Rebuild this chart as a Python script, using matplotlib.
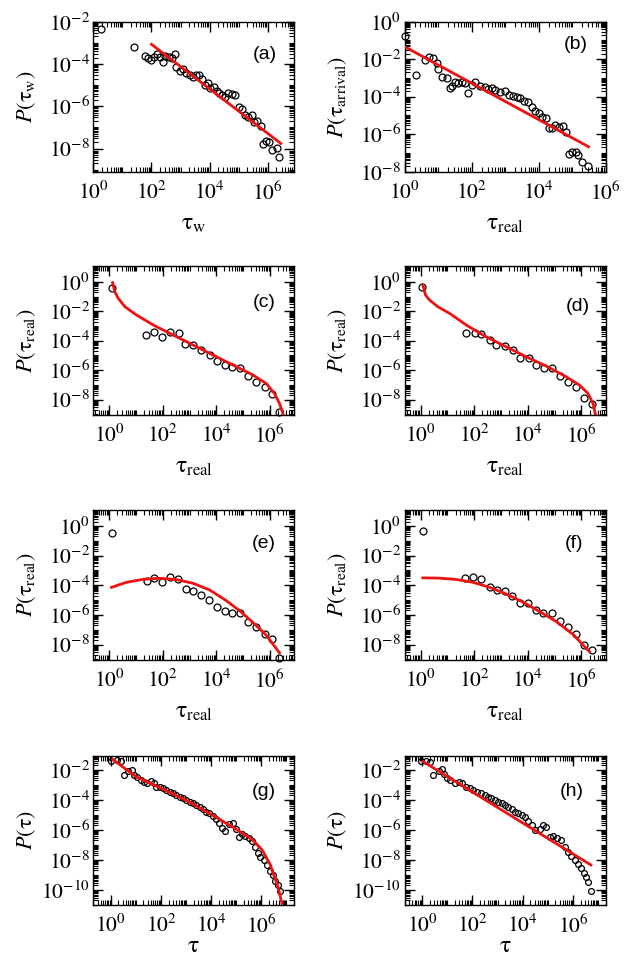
import numpy as np
import matplotlib
matplotlib.use('Agg')
import matplotlib.pyplot as plt
from matplotlib.ticker import FixedLocator, LogLocator, FuncFormatter, NullFormatter

plt.rcParams['mathtext.fontset'] = 'stix'
plt.rcParams['font.family'] = ['Liberation Serif', 'DejaVu Sans']

# (a) waiting times
a_lx = [0.28, 1.39, 1.77, 1.88, 1.98, 2.08, 2.2, 2.31, 2.39, 2.48, 2.6, 2.69, 2.8, 2.85,
        2.97, 3.08, 3.2, 3.31, 3.42, 3.54, 3.65, 3.75, 3.84, 3.95, 4.03, 4.15, 4.26, 4.34,
        4.43, 4.53, 4.64, 4.76, 4.87, 5.01, 5.13, 5.22, 5.33, 5.47, 5.53, 5.64, 5.76, 5.82,
        5.93, 6.05, 6.14, 6.33, 6.39]
a_ly = [-2.35, -3.18, -3.61, -3.71, -3.82, -3.66, -3.55, -3.66, -3.93, -3.61, -3.66, -3.74,
        -3.55, -4.13, -4.34, -4.24, -4.45, -4.5, -4.61, -4.5, -4.5, -4.72, -5.0, -4.92,
        -5.13, -5.08, -5.29, -5.35, -5.48, -5.56, -5.35, -5.44, -5.48, -6.03, -6.11, -6.4,
        -6.51, -6.43, -6.75, -6.72, -6.94, -7.77, -7.66, -7.69, -8.09, -7.98, -8.41]
a_fit_lx = [2.0, 6.45]
a_fit_ly = [-3.07, -7.76]

# (b) arrival times
b_lx = [0.02, 0.34, 0.6, 0.72, 0.84, 0.96, 1.01, 1.12, 1.27, 1.36, 1.43, 1.51, 1.61, 1.71,
        1.81, 1.89, 2.01, 2.11, 2.26, 2.39, 2.49, 2.61, 2.71, 2.86, 3.01, 3.13, 3.25, 3.35,
        3.45, 3.55, 3.68, 3.8, 3.9, 4.02, 4.1, 4.22, 4.3, 4.4, 4.5, 4.62, 4.73, 4.82, 4.9,
        5.0, 5.12, 5.18, 5.3, 5.47]
b_ly = [-0.75, -2.84, -2.04, -1.87, -1.95, -2.22, -2.54, -2.93, -2.99, -3.55, -3.43, -3.2,
        -3.29, -3.2, -3.29, -3.82, -3.38, -3.2, -3.43, -3.47, -3.59, -3.52, -3.64, -3.77,
        -3.7, -3.91, -3.94, -4.0, -4.09, -4.23, -4.3, -4.53, -4.76, -4.89, -5.07, -5.16,
        -5.65, -5.69, -5.51, -5.6, -5.56, -5.9, -7.07, -6.93, -6.93, -7.1, -7.47, -7.68]
b_fit_lx = [0.0, 5.49]
b_fit_ly = [-1.33, -6.67]

# (c)
c_lx = [0.08, 1.36, 1.66, 1.97, 2.28, 2.59, 2.84, 3.13, 3.42, 3.75, 4.02, 4.31, 4.6, 4.87,
        5.18, 5.49, 5.8, 6.09, 6.36]
c_ly = [-0.44, -3.61, -3.39, -3.77, -3.39, -3.5, -4.23, -4.29, -4.63, -4.97, -5.36, -5.65,
        -5.81, -5.88, -6.4, -6.79, -7.17, -7.63, -8.83]
c_fit_lx = [0.12, 0.2, 0.33, 0.58, 1.01, 1.64, 2.38, 3.13, 3.87, 4.62, 5.37, 5.86, 6.17,
            6.36, 6.49]
c_fit_ly = [-0.05, -0.67, -1.12, -1.69, -2.25, -2.93, -3.61, -4.29, -4.97, -5.65, -6.33,
            -6.9, -7.58, -8.26, -8.94]

# (d)
d_lx = [0.06, 1.7, 2.01, 2.26, 2.57, 2.82, 3.13, 3.43, 3.71, 4.04, 4.31, 4.62, 4.91, 5.18,
        5.49, 5.8, 6.08, 6.4]
d_ly = [-0.33, -3.46, -3.46, -3.55, -3.95, -4.29, -4.36, -4.63, -5.2, -5.2, -5.65, -5.88,
        -5.84, -6.4, -6.79, -7.13, -7.92, -8.31]
d_fit_lx = [0.08, 0.18, 0.33, 0.64, 1.08, 1.7, 2.44, 3.19, 3.94, 4.68, 5.43, 5.93, 6.24,
            6.43, 6.53]
d_fit_ly = [-0.21, -0.89, -1.23, -1.69, -2.14, -2.93, -3.73, -4.41, -5.09, -5.72, -6.45,
            -7.02, -7.58, -8.26, -9.06]

# (e)
e_lx = [0.08, 1.39, 1.66, 1.97, 2.26, 2.57, 2.86, 3.13, 3.42, 3.73, 4.02, 4.31, 4.6, 4.87,
        5.18, 5.49, 5.8, 6.09, 6.36]
e_ly = [-0.46, -3.68, -3.5, -3.8, -3.46, -3.57, -4.25, -4.36, -4.63, -5.0, -5.45, -5.72,
        -5.84, -5.9, -6.45, -6.81, -7.26, -7.65, -8.9]
e_fit_lx = [0.08, 0.64, 1.26, 1.89, 2.51, 3.13, 3.75, 4.37, 4.87, 5.37, 5.86, 6.36]
e_fit_ly = [-4.14, -3.8, -3.6, -3.53, -3.62, -3.87, -4.32, -5.04, -5.72, -6.52, -7.36, -8.56]

# (f)
f_lx = [0.08, 1.67, 1.97, 2.26, 2.57, 2.84, 3.13, 3.42, 3.71, 4.0, 4.29, 4.58, 4.9, 5.18,
        5.49, 5.8, 6.11, 6.4]
f_ly = [-0.33, -3.5, -3.45, -3.57, -4.09, -4.32, -4.41, -4.7, -5.22, -5.22, -5.68, -5.84,
        -5.9, -6.4, -6.81, -7.26, -8.04, -8.4]
f_fit_lx = [0.08, 0.7, 1.33, 1.95, 2.57, 3.19, 3.81, 4.43, 5.06, 5.68, 6.3]
f_fit_ly = [-3.5, -3.52, -3.61, -3.8, -4.14, -4.59, -5.13, -5.77, -6.45, -7.31, -8.49]

# (g)
g_lx = [0.0, 0.26, 0.4, 0.53, 0.7, 0.86, 0.93, 1.06, 1.19, 1.32, 1.46, 1.59, 1.72, 1.81,
        1.95, 2.08, 2.21, 2.34, 2.48, 2.61, 2.74, 2.87, 3.01, 3.14, 3.27, 3.4, 3.54, 3.67,
        3.8, 3.93, 4.07, 4.2, 4.33, 4.44, 4.54, 4.73, 4.86, 4.97, 5.1, 5.23, 5.36, 5.5,
        5.63, 5.76, 5.87, 5.96, 6.09, 6.23, 6.36, 6.45, 6.56, 6.66, 6.75]
g_ly = [-1.38, -1.33, -1.38, -2.33, -2.04, -2.0, -2.33, -2.49, -2.67, -2.78, -2.84, -2.71,
        -2.89, -3.11, -3.11, -3.22, -3.33, -3.44, -3.56, -3.67, -3.78, -3.89, -4.0, -4.11,
        -4.22, -4.33, -4.49, -4.62, -4.78, -4.89, -5.07, -5.29, -5.56, -5.89, -6.04, -5.6,
        -5.56, -5.96, -6.49, -6.27, -6.4, -6.56, -6.71, -7.16, -7.56, -7.78, -8.0, -8.33,
        -8.71, -9.0, -9.38, -9.67, -10.04]
g_fit_lx = [0.07, 0.99, 1.92, 2.98, 4.04, 4.83, 5.63, 6.03, 6.36, 6.42, 6.62, 6.69, 6.82]
g_fit_ly = [-1.29, -2.44, -3.16, -4.0, -5.0, -5.78, -6.62, -7.33, -8.33, -8.67, -9.56,
            -10.0, -10.89]

# (h)
h_lx = [-0.04, 0.17, 0.33, 0.44, 0.67, 0.8, 0.87, 1.0, 1.13, 1.29, 1.47, 1.6, 1.73, 1.91,
        2.04, 2.2, 2.36, 2.49, 2.63, 2.76, 2.89, 3.03, 3.16, 3.29, 3.43, 3.56, 3.69, 3.83,
        3.96, 4.09, 4.23, 4.36, 4.49, 4.67, 4.8, 4.93, 5.07, 5.2, 5.37, 5.53, 5.67, 5.8,
        5.93, 6.07, 6.2, 6.33, 6.44, 6.53, 6.6, 6.71]
h_ly = [-1.38, -1.38, -1.44, -2.33, -2.04, -1.96, -2.27, -2.56, -2.67, -2.89, -2.78, -2.89,
        -3.16, -3.22, -3.33, -3.44, -3.56, -3.67, -3.78, -3.89, -4.0, -4.11, -4.22, -4.33,
        -4.49, -4.62, -4.78, -4.89, -5.0, -5.11, -5.38, -5.67, -6.0, -5.96, -5.67, -5.82,
        -6.44, -6.4, -6.56, -6.67, -7.11, -7.44, -7.73, -8.0, -8.27, -8.56, -8.84, -9.16,
        -9.44, -10.04]
h_fit_lx = [0.04, 6.71]
h_fit_ly = [-1.44, -8.33]

panels = [
    ('a', a_lx, a_ly, a_fit_lx, a_fit_ly, (1.0, 8e6), (8e-10, 1e-2),
     r'$P(\mathrm{\tau}_{\rm w})$', r'$\mathrm{\tau}_{\rm w}$', (0.855, 0.78), 5),
    ('b', b_lx, b_ly, b_fit_lx, b_fit_ly, (1.0, 1e6), (1e-8, 1.0),
     r'$P(\mathrm{\tau}_{\rm arrival})$', r'$\mathrm{\tau}_{\rm real}$', (0.85, 0.85), 5),
    ('c', c_lx, c_ly, c_fit_lx, c_fit_ly, (0.25, 8e6), (9e-10, 12.0),
     r'$P(\mathrm{\tau}_{\rm real})$', r'$\mathrm{\tau}_{\rm real}$', (0.85, 0.755), 5),
    ('d', d_lx, d_ly, d_fit_lx, d_fit_ly, (0.25, 8e6), (9e-10, 12.0),
     r'$P(\mathrm{\tau}_{\rm real})$', r'$\mathrm{\tau}_{\rm real}$', (0.86, 0.725), 5),
    ('e', e_lx, e_ly, e_fit_lx, e_fit_ly, (0.25, 8e6), (9e-10, 12.0),
     r'$P(\mathrm{\tau}_{\rm real})$', r'$\mathrm{\tau}_{\rm real}$', (0.85, 0.78), 5),
    ('f', f_lx, f_ly, f_fit_lx, f_fit_ly, (0.25, 8e6), (9e-10, 12.0),
     r'$P(\mathrm{\tau}_{\rm real})$', r'$\mathrm{\tau}_{\rm real}$', (0.84, 0.78), 5),
    ('g', g_lx, g_ly, g_fit_lx, g_fit_ly, (0.2, 2e7), (1e-11, 8.5e-2),
     r'$P(\mathrm{\tau})$', r'$\mathrm{\tau}$', (0.85, 0.76), 4.2),
    ('h', h_lx, h_ly, h_fit_lx, h_fit_ly, (0.2, 2e7), (1e-11, 8.5e-2),
     r'$P(\mathrm{\tau})$', r'$\mathrm{\tau}$', (0.83, 0.76), 4.2),
]

# axes boxes in pixels (left, top, right, bottom) of a 626 x 958 picture
col_x = [(93.3, 294.0), (404.5, 605.7)]
row_y = [(21.7, 171.7), (266.0, 415.0), (510.0, 660.0), (756.0, 905.0)]

W, H = 626, 958
fig = plt.figure(figsize=(W / 100, H / 100), dpi=100)

fmt = FuncFormatter(lambda v, p: r'$10^{%d}$' % int(round(np.log10(v))))

for i, (tag, lx, ly, flx, fly, xlim, ylim, ylab, xlab, tpos, ms) in enumerate(panels):
    x0, x1 = col_x[i % 2]
    y0, y1 = row_y[i // 2]
    ax = fig.add_axes([x0 / W, 1 - y1 / H, (x1 - x0) / W, (y1 - y0) / H])
    ax.set_xscale('log')
    ax.set_yscale('log')

    ax.plot(10.0 ** np.array(flx), 10.0 ** np.array(fly), color='#ee1111', lw=2.0,
            zorder=3)
    ax.plot(10.0 ** np.array(lx), 10.0 ** np.array(ly), 'o', mfc='none', mec='black',
            mew=0.9, ms=ms, zorder=2, clip_on=False)

    ax.set_xlim(*xlim)
    ax.set_ylim(*ylim)

    for axis in (ax.xaxis, ax.yaxis):
        axis.set_major_locator(FixedLocator(10.0 ** np.arange(-12, 10, 2)))
        axis.set_major_formatter(fmt)
        axis.set_minor_locator(LogLocator(base=10, subs=np.arange(1, 10), numticks=60))
        axis.set_minor_formatter(NullFormatter())

    ax.tick_params(which='both', direction='in', top=True, right=True)
    ax.tick_params(which='major', length=7, width=1.0, labelsize=15.5)
    ax.tick_params(which='minor', length=3.5, width=0.8)
    ax.tick_params(axis='x', which='major', pad=7)
    ax.tick_params(axis='y', which='major', pad=2.5)
    for s in ax.spines.values():
        s.set_linewidth(1.0)

    ax.set_ylabel(ylab, fontsize=16)
    ax.set_xlabel(xlab, fontsize=17)
    ax.yaxis.set_label_coords(-0.275, 0.5)
    ax.xaxis.set_label_coords(0.5, -0.205 if tag in 'gh' else -0.28)

    ax.text(tpos[0], tpos[1], '(%s)' % tag, transform=ax.transAxes, ha='center',
            va='center', fontsize=14, family='Liberation Sans')

fig.savefig('out.png', dpi=100)
